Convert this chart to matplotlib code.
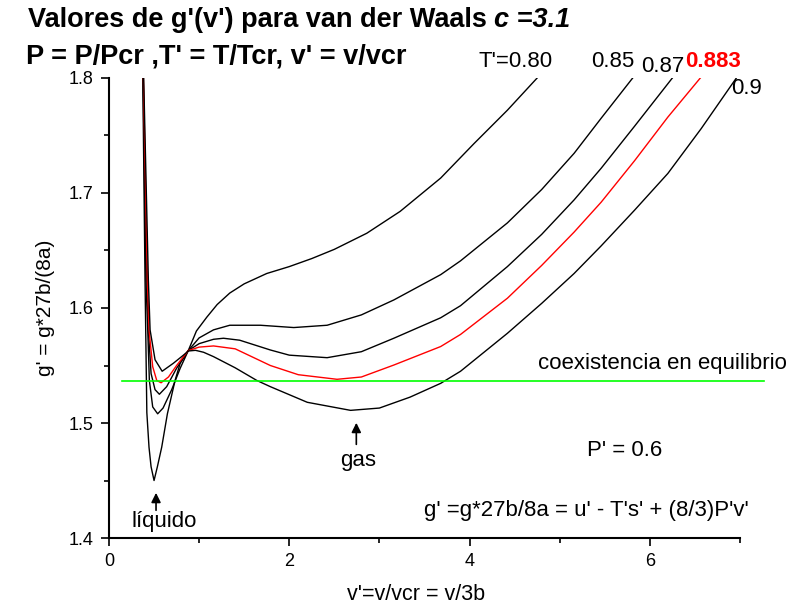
import matplotlib
matplotlib.use('Agg')
import matplotlib.pyplot as plt
from matplotlib.ticker import MultipleLocator, FormatStrFormatter

plt.rcParams['font.family'] = ['Liberation Sans', 'DejaVu Sans']

# ---- data ----
temps = ["0.80", "0.85", "0.87", "0.883", "0.9"]

x_080 = [0.375, 0.40, 0.42, 0.444, 0.467, 0.50, 0.537, 0.585, 0.648, 0.733, 0.79, 0.88, 0.97, 1.085, 1.2,
         1.34, 1.5, 1.75, 2.0, 2.25, 2.5, 2.86, 3.23, 3.68, 4.05, 4.42, 4.75]
g_080 = [1.80, 1.624, 1.509, 1.479, 1.462, 1.450, 1.462, 1.479, 1.508, 1.537, 1.552, 1.563, 1.580, 1.592,
         1.603, 1.613, 1.621, 1.630, 1.636, 1.643, 1.651, 1.665, 1.684, 1.713, 1.743, 1.772, 1.80]

x_085 = [0.378, 0.41, 0.43, 0.448, 0.485, 0.54, 0.60, 0.696, 0.79, 0.88, 1.0, 1.16, 1.34, 1.68, 2.05, 2.42,
         2.8, 3.16, 3.68, 3.90, 4.42, 4.8, 5.16, 5.46, 5.81]
g_085 = [1.80, 1.624, 1.581, 1.537, 1.514, 1.508, 1.513, 1.529, 1.5476, 1.563, 1.574, 1.581, 1.585, 1.585,
         1.583, 1.585, 1.594, 1.607, 1.629, 1.641, 1.674, 1.703, 1.7345, 1.765, 1.80]

x_087 = [0.38, 0.42, 0.437, 0.467, 0.511, 0.559, 0.64, 0.75, 0.88, 1.0, 1.16, 1.27, 1.45, 1.79, 2.0, 2.42,
         2.8, 3.16, 3.68, 3.90, 4.42, 4.8, 5.16, 5.46, 5.83, 6.25]
g_087 = [1.80, 1.624, 1.581, 1.543, 1.529, 1.525, 1.5316, 1.5476, 1.563, 1.569, 1.5728, 1.5737, 1.572,
         1.5635, 1.559, 1.5568, 1.562, 1.5737, 1.5915, 1.602, 1.636, 1.664, 1.694, 1.7215, 1.758, 1.80]

x_0883 = [0.382, 0.426, 0.444, 0.485, 0.53, 0.578, 0.66, 0.75, 0.88, 1.0, 1.16, 1.4, 1.79, 2.1, 2.53, 2.8,
          3.16, 3.68, 3.90, 4.42, 4.8, 5.16, 5.46, 5.83, 6.20, 6.56]
g_0883 = [1.80, 1.624, 1.581, 1.549, 1.537, 1.535, 1.540, 1.550, 1.563, 1.566, 1.567, 1.5645, 1.550, 1.542,
          1.538, 1.540, 1.5504, 1.5665, 1.577, 1.6085, 1.637, 1.666, 1.692, 1.728, 1.766, 1.80]

x_090 = [0.385, 0.437, 0.456, 0.511, 0.59, 0.715, 0.826, 0.88, 0.96, 1.05, 1.16, 1.4, 1.64, 1.79, 2.2, 2.68,
         3.0, 3.34, 3.68, 3.90, 4.42, 4.8, 5.16, 5.46, 5.83, 6.20, 6.57, 6.96]
g_090 = [1.80, 1.624, 1.581, 1.555, 1.545, 1.552, 1.559, 1.5626, 1.5632, 1.5615, 1.5577, 1.548, 1.537,
         1.5316, 1.518, 1.511, 1.513, 1.5225, 1.5345, 1.545, 1.578, 1.604, 1.630, 1.654, 1.685, 1.717,
         1.756, 1.80]

coex_x = [0.14, 7.27]
coex_g = [1.5365, 1.5365]

x_ticks = [0, 2, 4, 6]
y_ticks = [1.4, 1.5, 1.6, 1.7, 1.8]

# ---- figure ----
fig = plt.figure(figsize=(7.92, 6.06), dpi=100)
ax = fig.add_axes([0.1376, 0.1122, 0.7967, 0.7591])

curves = [(x_080, g_080, 'black'), (x_085, g_085, 'black'), (x_087, g_087, 'black'),
          (x_0883, g_0883, 'red'), (x_090, g_090, 'black')]
for xs, gs, col in curves:
    ax.plot(xs, gs, color=col, lw=1.0, solid_joinstyle='round')

ax.plot(coex_x, coex_g, color='#00ff00', lw=1.2, clip_on=False)

ax.set_xlim(0, 7)
ax.set_ylim(1.4, 1.8)
ax.set_xticks(x_ticks)
ax.set_yticks(y_ticks)
ax.xaxis.set_minor_locator(MultipleLocator(1))
ax.yaxis.set_minor_locator(MultipleLocator(0.05))
ax.yaxis.set_major_formatter(FormatStrFormatter('%.1f'))
ax.spines['top'].set_visible(False)
ax.spines['right'].set_visible(False)
for s in ['left', 'bottom']:
    ax.spines[s].set_linewidth(1.5)
ax.tick_params(which='major', direction='out', length=6, width=1.2, labelsize=13, pad=5)
ax.tick_params(which='minor', direction='out', length=3.5, width=1.2)

ax.set_xlabel("v'=v/vcr = v/3b", fontsize=15.5, va='center')
ax.xaxis.set_label_coords(0.4865, -0.122)
ax.set_ylabel("g' = g*27b/(8a)", fontsize=15, labelpad=10)

# curve labels
lab_kw = dict(fontsize=16, clip_on=False, ha='center', va='center')
ax.text(4.51, 1.814, "T'=0.80", **lab_kw)
ax.text(5.59, 1.814, "0.85", **lab_kw)
ax.text(6.14, 1.8098, "0.87", **lab_kw)
ax.text(6.70, 1.814, "0.883", color='red', fontweight='bold', **lab_kw)
ax.text(7.07, 1.791, "0.9", **lab_kw)

ax.text(4.756, 1.552, "coexistencia en equilibrio", fontsize=16, ha='left', va='center', clip_on=False)
ax.text(5.72, 1.4765, "P' = 0.6", fontsize=16, ha='center', va='center')
ax.text(3.49, 1.4243, "g' =g*27b/8a = u' - T's' + (8/3)P'v'", fontsize=16, ha='left', va='center',
        clip_on=False)

ax.annotate("", xy=(2.744, 1.5026), xytext=(2.744, 1.479),
            arrowprops=dict(arrowstyle='-|>', color='black', lw=1.2, mutation_scale=14))
ax.text(2.76, 1.467, "gas", fontsize=16, ha='center', va='center')
ax.annotate("", xy=(0.522, 1.4417), xytext=(0.522, 1.4217),
            arrowprops=dict(arrowstyle='-|>', color='black', lw=1.2, mutation_scale=14))
ax.text(0.617, 1.414, "líquido", fontsize=16, ha='center', va='center')

# titles
t1 = fig.text(28/792, 1 - 20/606, "Valores de g'(v') para van der Waals ", fontsize=19.5,
              fontweight='bold', ha='left', va='center')
fig.canvas.draw()
bb = t1.get_window_extent()
fig.text(bb.x1 / fig.bbox.width, 1 - 20/606, "c =3.1", fontsize=19.5, fontweight='bold',
         fontstyle='italic', ha='left', va='center')
fig.text(26/792, 1 - 57/606, "P = P/Pcr ,T' = T/Tcr, v' = v/vcr", fontsize=19.5,
         fontweight='bold', ha='left', va='center')

fig.savefig('out.png', dpi=100)
